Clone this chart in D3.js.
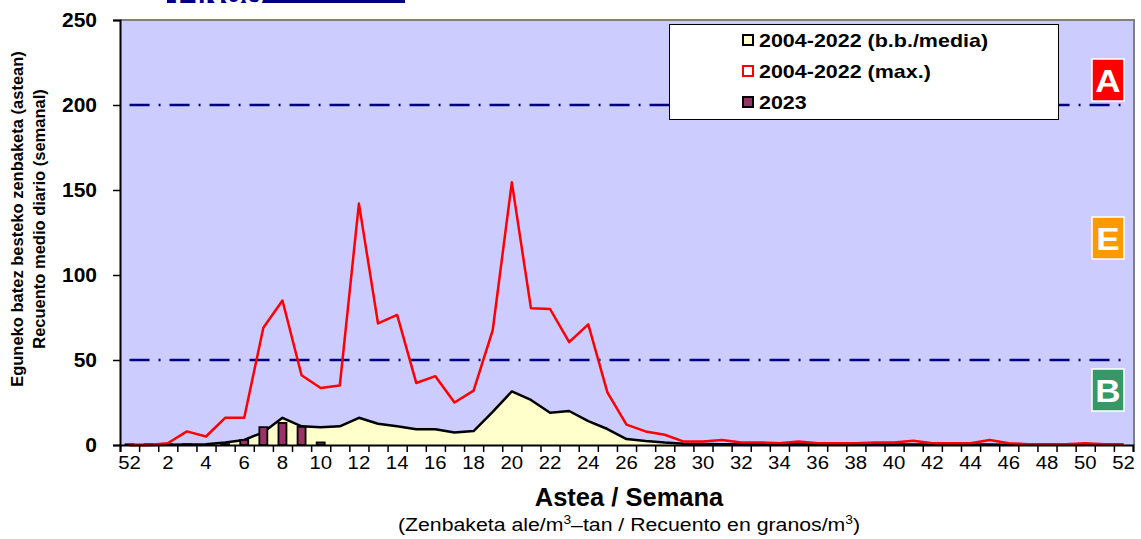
<!DOCTYPE html>
<html>
<head>
<meta charset="utf-8">
<script src="https://cdn.jsdelivr.net/npm/d3@7"></script>
<style>
  body { margin: 0; background: #fff; }
  svg { display: block; font-family: "Liberation Sans", Arial, sans-serif; }
</style>
</head>
<body>
<svg id="chart" width="1141" height="539"></svg>
<script>
// ---- data ----
const weeks = [52, 1,2,3,4,5,6,7,8,9,10,11,12,13,14,15,16,17,18,19,20,21,22,23,24,25,26,27,28,29,30,31,32,33,34,35,36,37,38,39,40,41,42,43,44,45,46,47,48,49,50,51,52];
const meanValues = [0,0,0.2,0.3,0.5,1.5,3,7.5,16,11,10.5,11,16,12.5,11,9.3,9.3,7.3,8.2,19.5,31.5,26.5,19,20,14,9.4,3.5,2.3,1.4,0.8,0.6,0.5,0.5,0.4,0.4,0.4,0.3,0.3,0.3,0.3,0.3,0.3,0.3,0.3,0.3,0.3,0.2,0.2,0.2,0.2,0.2,0.2,0.2];
const maxValues = [0,0,1,8,5,16,16,69,85,41,33.5,35,142,71.5,76.5,36.5,40.5,25,32,67.5,154.5,80.5,80,60.5,71,31,12,8,6,2,2,3,1.5,1.5,1,2,1,1,1,1.5,1.5,2.5,1,1,1,3,1,0.5,0.5,0.5,1,0.5,0.5];
const values2023 = [0.4,0.4,0.4,0.4,null,0.5,3,10.5,13,10.7,1.5];
const yTicks = [0,50,100,150,200,250];
const thresholds = [50,200];
const legendLabels = ["2004-2022 (b.b./media)", "2004-2022 (max.)", "2023"];
const levelLetters = ["A","E","B"];

// ---- layout ----
const SX = 1.13; // horizontal stretch of the original picture's texts
const svg = d3.select("#chart");
const L = 120, R = 1133, T = 20, B = 445;
const x = d3.scaleBand().domain(d3.range(weeks.length)).range([L, R]).padding(0);
const xc = i => x(i) + x.bandwidth() / 2;
const xEdge = d3.scaleLinear().domain([0, weeks.length]).range([L, R]);
const y = d3.scaleLinear().domain([0, 250]).range([B, T]);

// title strip (cut off at top, as in the original)
svg.append("rect").attr("x", 167).attr("y", -20).attr("width", 238).attr("height", 23).attr("fill", "#000080");
svg.append("g").attr("transform", `translate(174,5) scale(${SX},1)`)
  .append("text").attr("fill", "#fff").attr("font-weight", "bold").attr("font-size", 26).text("PINUS");

// plot background
svg.append("rect").attr("x", L).attr("y", T).attr("width", R - L).attr("height", B - T).attr("fill", "#CCCCFF");
svg.append("path").attr("d", `M${L},${T}H${R+1}V${B}`).attr("fill", "none").attr("stroke", "#808080").attr("stroke-width", 2);

// threshold lines
svg.selectAll("line.thr").data(thresholds).join("line")
  .attr("class", "thr")
  .attr("x1", xc(0)).attr("x2", xc(weeks.length - 1))
  .attr("y1", d => y(d)).attr("y2", d => y(d))
  .attr("stroke", "#000080").attr("stroke-width", 2.5)
  .attr("stroke-dasharray", "20,9,2,9");

// mean area
const area = d3.area().x((d, i) => xc(i)).y0(y(0)).y1(d => y(d));
svg.append("path").datum(meanValues).attr("d", area).attr("fill", "#FFFFCC");
const line = d3.line().x((d, i) => xc(i)).y(d => y(d));
svg.append("path").datum(meanValues).attr("d", line).attr("fill", "none").attr("stroke", "#000").attr("stroke-width", 2.5).attr("stroke-linejoin", "round");

// 2023 bars
const bw = 8;
svg.selectAll("rect.bar").data(values2023.map((v, i) => ({v, i})).filter(d => d.v != null)).join("rect")
  .attr("class", "bar")
  .attr("x", d => xc(d.i) - bw / 2).attr("width", bw)
  .attr("y", d => y(d.v)).attr("height", d => y(0) - y(d.v))
  .attr("fill", "#993366").attr("stroke", "#000").attr("stroke-width", 1.8);

// max line
svg.append("path").datum(maxValues).attr("d", line).attr("fill", "none").attr("stroke", "#FF0000").attr("stroke-width", 2.5).attr("stroke-linejoin", "round");

// y axis
const yAxis = svg.append("g").attr("transform", `translate(${L},0)`)
  .call(d3.axisLeft(y).tickValues(yTicks).tickSize(7).tickPadding(16).tickFormat(d3.format("d")));
yAxis.select(".domain").attr("stroke", "#000").attr("stroke-width", 2);
yAxis.selectAll(".tick line").attr("stroke", "#000").attr("stroke-width", 1.5);
yAxis.selectAll(".tick text").attr("font-size", 21).attr("font-weight", "bold").attr("fill", "#000").attr("font-family", "Liberation Sans, Arial, sans-serif");

// x axis ticks at category edges
const xTickAxis = svg.append("g").attr("transform", `translate(0,${B})`)
  .call(d3.axisBottom(xEdge).tickValues(d3.range(weeks.length + 1)).tickSize(7).tickFormat(""));
xTickAxis.select(".domain").attr("stroke", "#000").attr("stroke-width", 2);
xTickAxis.selectAll(".tick line").attr("stroke", "#000").attr("stroke-width", 1.5);
// x labels at centers
const xLab = svg.append("g").attr("transform", `translate(0,${B})`)
  .call(d3.axisBottom(x).tickSize(0).tickPadding(11).tickFormat((d, i) => i % 2 === 0 ? weeks[i] : ""));
xLab.select(".domain").remove();
xLab.selectAll(".tick text").attr("font-size", 18).attr("fill", "#000")
  .attr("font-family", "Liberation Sans, Arial, sans-serif")
  .attr("transform", `scale(${SX},1)`);

// axis titles
svg.append("g").attr("transform", `translate(629,506) scale(1.02,1)`)
  .append("text").attr("text-anchor", "middle").attr("font-size", 25).attr("font-weight", "bold").text("Astea / Semana");
const sub = svg.append("g").attr("transform", `translate(629,531) scale(1.15,1)`)
  .append("text").attr("text-anchor", "middle").attr("font-size", 18.5);
sub.append("tspan").text("(Zenbaketa ale/m");
sub.append("tspan").attr("font-size", 12).attr("dy", -7).text("3");
sub.append("tspan").attr("dy", 7).text("–tan / Recuento en granos/m");
sub.append("tspan").attr("font-size", 12).attr("dy", -7).text("3");
sub.append("tspan").attr("dy", 7).text(")");

const yt = svg.append("text").attr("transform", "translate(23,219) rotate(-90)").attr("text-anchor", "middle").attr("font-size", 16.5).attr("font-weight", "bold");
yt.append("tspan").attr("x", 0).attr("dy", 0).text("Eguneko batez besteko zenbaketa (astean)");
yt.append("tspan").attr("x", 0).attr("dy", 22).text("Recuento medio diario (semanal)");

// legend
const lg = svg.append("g");
lg.append("rect").attr("x", 669.5).attr("y", 24.5).attr("width", 389).attr("height", 95).attr("fill", "#fff").attr("stroke", "#000").attr("stroke-width", 1);
const lgStyles = [
  {fill: "#FFFFCC", stroke: "#000"},
  {fill: "#fff", stroke: "#FF0000"},
  {fill: "#993366", stroke: "#000"}
];
legendLabels.forEach((t, i) => {
  const cy = 40 + i * 31;
  lg.append("rect").attr("x", 743).attr("y", cy - 5).attr("width", 10).attr("height", 10)
    .attr("fill", lgStyles[i].fill).attr("stroke", lgStyles[i].stroke).attr("stroke-width", 2);
  lg.append("g").attr("transform", `translate(759,${cy + 7}) scale(${SX},1)`)
    .append("text").attr("font-size", 19).attr("font-weight", "bold").text(t);
});

// level boxes
const boxes = [
  {letter: levelLetters[0], color: "#FF0000", y0: 59},
  {letter: levelLetters[1], color: "#FF9900", y0: 217},
  {letter: levelLetters[2], color: "#339966", y0: 369}
];
boxes.forEach(b => {
  svg.append("rect").attr("x", 1092).attr("y", b.y0).attr("width", 32).attr("height", 42)
    .attr("fill", b.color).attr("stroke", "#fff").attr("stroke-width", 1.5);
  svg.append("g").attr("transform", `translate(1108,${b.y0 + 33}) scale(${SX},1)`)
    .append("text").attr("text-anchor", "middle")
    .attr("font-size", 31).attr("font-weight", "bold").attr("fill", "#fff").text(b.letter);
});
</script>
</body>
</html>
